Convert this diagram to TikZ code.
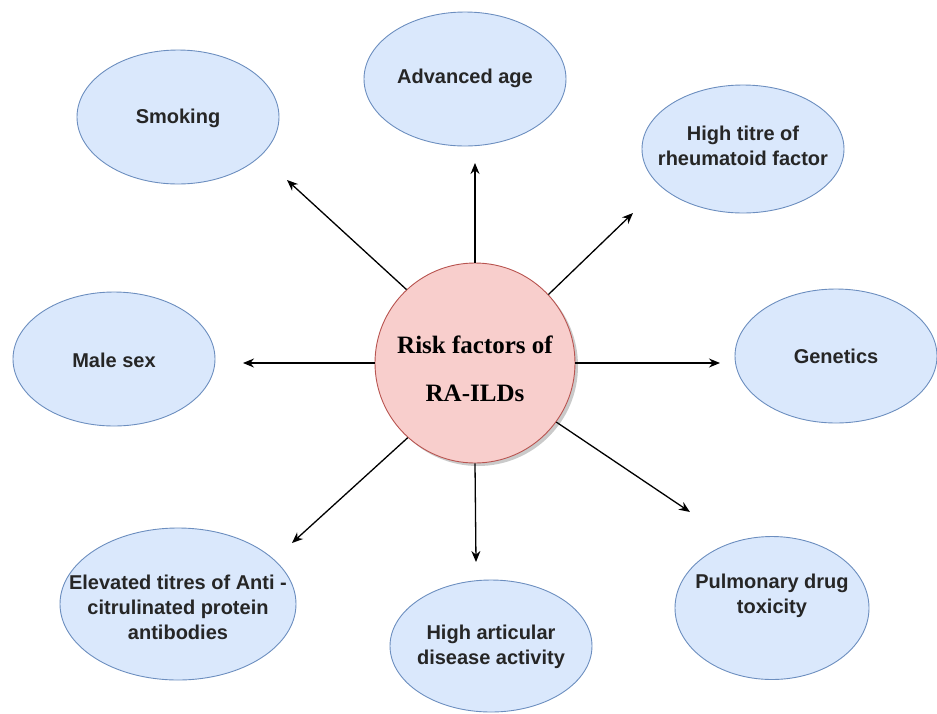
\documentclass[tikz,border=0pt]{standalone}
\usepackage{fontspec}
\setmainfont{Liberation Serif}
\setsansfont{Liberation Sans}
\usetikzlibrary{shapes.geometric,arrows.meta,shadows}
\definecolor{ellfill}{HTML}{DAE8FC}
\definecolor{elldraw}{HTML}{6C8EBF}
\definecolor{cfill}{HTML}{F8CECC}
\definecolor{cdraw}{HTML}{B85450}
\tikzset{
  factor/.style={ellipse, draw=elldraw, fill=ellfill, line width=0.9pt, inner sep=0pt,
    minimum width=202pt, minimum height=134pt},
  ftext/.style={align=center, inner sep=0pt,
    font=\sffamily\bfseries\fontsize{20}{25}\selectfont, text=black!85},
  hub/.style={circle, draw=cdraw, fill=cfill, line width=0.9pt, minimum size=200pt, inner sep=0pt,
    drop shadow={shadow xshift=3pt, shadow yshift=-3pt, opacity=0.35, fill=black!60}},
  hubtext/.style={align=center, inner sep=0pt, font=\rmfamily\bfseries\fontsize{25}{48}\selectfont},
  link/.style={line width=1.3pt, -{Stealth[length=11pt,width=9pt]}}
}
\begin{document}
\begin{tikzpicture}[x=1pt,y=-1pt]
\useasboundingbox (0,0) rectangle (937,713);
\node[hub] (c) at (475,363) {};
\node[hubtext] (ct) at (475,369) {Risk factors of\\RA-ILDs};
\node[factor] (smk) at (178,117) {};
\node[ftext] (smkt) at (178,118) {Smoking};
\node[factor] (age) at (465,79) {};
\node[ftext] (aget) at (465,78) {Advanced age};
\node[factor, minimum height=128pt] (rf) at (743,149) {};
\node[ftext] (rft) at (743,146) {High titre of\\rheumatoid factor};
\node[factor] (male) at (114,359) {};
\node[ftext] (malet) at (114,360) {Male sex};
\node[factor] (gen) at (836,356) {};
\node[ftext] (gent) at (836,356) {Genetics};
\node[factor, minimum width=236pt, minimum height=152pt] (acpa) at (178,604) {};
\node[ftext] (acpat) at (178,607) {Elevated titres of Anti -\\citrulinated protein\\antibodies};
\node[factor, minimum height=132pt] (art) at (491,646) {};
\node[ftext] (artt) at (491,647) {High articular\\disease activity};
\node[factor, minimum width=194pt, minimum height=143pt] (pul) at (772,608) {};
\node[ftext] (pult) at (772,596) {Pulmonary drug\\toxicity};
\coordinate (tsmk) at (287,180);
\coordinate (tage) at (475,163);
\coordinate (trf) at (633,213);
\coordinate (tmale) at (243,363);
\coordinate (tgen) at (720,363);
\coordinate (tacpa) at (292,543);
\coordinate (tart) at (476,562);
\coordinate (tpul) at (690,512);
\draw[link] (c.133) -- (tsmk);
\draw[link] (c.90) -- (tage);
\draw[link] (c.43) -- (trf);
\draw[link] (c.180) -- (tmale);
\draw[link] (c.0) -- (tgen);
\draw[link] (c.228) -- (tacpa);
\draw[link] (c.270) -- (tart);
\draw[link] (c.-36) -- (tpul);
\end{tikzpicture}
\end{document}
